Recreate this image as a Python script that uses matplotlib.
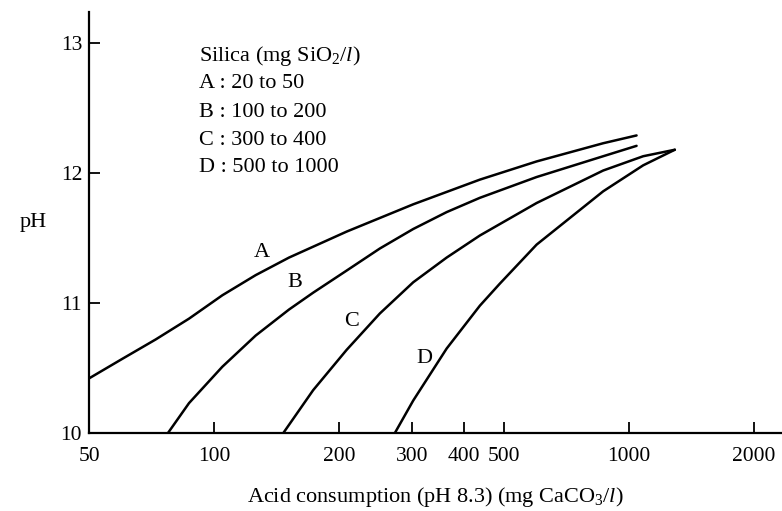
import matplotlib
matplotlib.use("Agg")
import matplotlib.pyplot as plt

# acid consumption (mg CaCO3/l) vs pH for four silica ranges
a_x = [50, 60.1, 72.4, 87.1, 104.8, 126.1, 151.7, 208.9, 302.3, 437.6, 599.6, 867.4, 1044]
a_ph = [10.42, 10.57, 10.72, 10.88, 11.06, 11.215, 11.35, 11.55, 11.76, 11.95, 12.09, 12.23, 12.29]

b_x = [77.5, 87.1, 104.8, 126.1, 151.7, 173.5, 208.9, 251.2, 302.3, 363.9, 437.6, 599.6, 867.4, 1044]
b_ph = [10.0, 10.23, 10.51, 10.75, 10.95, 11.08, 11.25, 11.42, 11.57, 11.70, 11.81, 11.97, 12.13, 12.21]

c_x = [147, 173.5, 208.9, 251.2, 302.3, 363.9, 437.6, 599.6, 867.4, 1083, 1291]
c_ph = [10.0, 10.33, 10.64, 10.92, 11.16, 11.35, 11.52, 11.77, 12.02, 12.13, 12.18]

d_x = [273, 302.3, 363.9, 437.6, 489, 599.6, 867.4, 1083, 1291]
d_ph = [10.0, 10.25, 10.65, 10.98, 11.15, 11.45, 11.86, 12.06, 12.18]

curve_names = ["A", "B", "C", "D"]
label_x = [130.8, 156.8, 214.8, 320.7]
label_ph = [11.39, 11.16, 10.86, 10.57]

legend_lines = [
    "Silica (mg SiO$_2$/$l$)",
    "A : 20 to 50",
    "B : 100 to 200",
    "C : 300 to 400",
    "D : 500 to 1000",
]
legend_ph = [12.90, 12.69, 12.47, 12.25, 12.04]

x_ticks = [50, 100, 200, 300, 400, 500, 1000, 2000]
y_ticks = [10, 11, 12, 13]

plt.rcParams["font.family"] = ["Liberation Serif", "DejaVu Serif"]
plt.rcParams["mathtext.fontset"] = "custom"
plt.rcParams["mathtext.rm"] = "Liberation Serif"
plt.rcParams["mathtext.it"] = "Liberation Serif:italic"

W, H = 782, 511
fig = plt.figure(figsize=(W / 100, H / 100), dpi=100)
ax = fig.add_axes([89 / W, (H - 433) / H, (W - 89) / W, (433 - 12) / H])

for xs, ys in [(a_x, a_ph), (b_x, b_ph), (c_x, c_ph), (d_x, d_ph)]:
    ax.plot(xs, ys, color="black", lw=1.8, solid_capstyle="round", solid_joinstyle="round")

for name, lx, ly in zip(curve_names, label_x, label_ph):
    ax.text(lx, ly, name, fontsize=16, ha="center", va="center")

for line, ly in zip(legend_lines, legend_ph):
    ax.text(92, ly, line, fontsize=16, ha="left", va="center")

ax.set_xscale("log")
ax.set_xlim(50, 2340)
ax.set_ylim(10, 13.24)
ax.set_xticks(x_ticks)
ax.set_xticklabels([str(t) for t in x_ticks])
ax.xaxis.set_minor_locator(matplotlib.ticker.NullLocator())
ax.set_yticks(y_ticks)
ax.tick_params(direction="in", length=8, width=1.3, labelsize=15.5)
ax.tick_params(axis="x", pad=10)
ax.tick_params(axis="y", pad=5)

for side in ("top", "right"):
    ax.spines[side].set_visible(False)
for side in ("left", "bottom"):
    ax.spines[side].set_linewidth(1.6)

ax.set_ylabel("pH", fontsize=16, rotation=0, labelpad=20, va="center")
ax.set_xlabel("Acid consumption (pH 8.3) (mg CaCO$_3$/$l$)", fontsize=16, labelpad=14)

fig.savefig("out.png", dpi=100)
